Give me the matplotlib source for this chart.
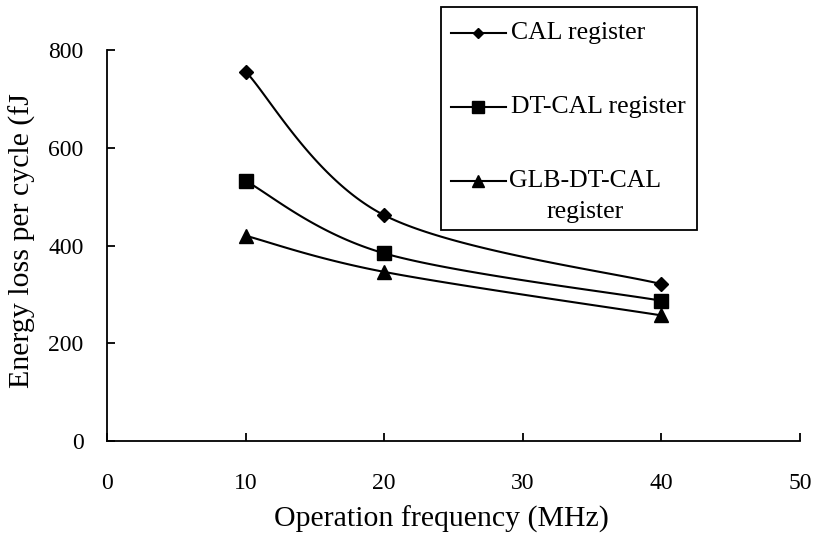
import numpy as np
import matplotlib
matplotlib.use("Agg")
import matplotlib.pyplot as plt
from matplotlib.lines import Line2D
from matplotlib.patches import Rectangle

plt.rcParams['font.family'] = ['Liberation Serif', 'DejaVu Serif']

freq = [10, 20, 40]
cal = [756, 462, 321]
dt_cal = [532, 384, 287]
glb_dt_cal = [420, 346, 257]
series_labels = ["CAL register", "DT-CAL register", "GLB-DT-CAL\nregister"]
markers = ["D", "s", "^"]
msizes = [7, 10, 10]
xticks = [0, 10, 20, 30, 40, 50]
yticks = [0, 200, 400, 600, 800]

W, H = 817, 535
fig = plt.figure(figsize=(W / 100, H / 100), dpi=100)
ax = fig.add_axes([107 / W, 1 - 441 / H, (800 - 107) / W, (441 - 50) / H])


def smooth(xs, ys, n=60):
    pts = np.column_stack([xs, ys]).astype(float)
    out = [pts[0]]
    m = len(pts)
    for i in range(m - 1):
        p0 = pts[i - 1] if i > 0 else pts[i]
        p1 = pts[i]
        p2 = pts[i + 1]
        p3 = pts[i + 2] if i + 2 < m else pts[i + 1]
        c1 = p1 + (p2 - p0) / 6.0
        c2 = p2 - (p3 - p1) / 6.0
        t = np.linspace(0, 1, n)[1:, None]
        seg = ((1 - t) ** 3) * p1 + 3 * ((1 - t) ** 2) * t * c1 + 3 * (1 - t) * t ** 2 * c2 + t ** 3 * p2
        out.extend(seg)
    out = np.array(out)
    return out[:, 0], out[:, 1]


for ys, mk, ms in zip([cal, dt_cal, glb_dt_cal], markers, msizes):
    sx, sy = smooth(freq, ys)
    ax.plot(sx, sy, color='black', lw=1.5, zorder=2, clip_on=False)
    ax.plot(freq, ys, linestyle='none', marker=mk, ms=ms, color='black', zorder=3, clip_on=False)

ax.set_xlim(0, 50)
ax.set_ylim(0, 800)
ax.set_xticks(xticks)
ax.set_yticks(yticks)
ax.spines['top'].set_visible(False)
ax.spines['right'].set_visible(False)
for s in ['left', 'bottom']:
    ax.spines[s].set_linewidth(1.3)
ax.tick_params(direction='in', length=6, width=1.3, labelsize=17)
ax.tick_params(axis='x', pad=23)
ax.tick_params(axis='y', pad=17)


def fx(px):
    return px / W


def fy(py):
    return 1 - py / H


fig.text(fx(441), fy(527), "Operation frequency (MHz)", ha='center', va='baseline', fontsize=21.5)
fig.text(fx(22), fy(241), "Energy loss per cycle (fJ", ha='center', va='center',
         rotation=90, fontsize=21.5)

# Legend box (manual, matching the reference layout)
fig.add_artist(Rectangle((fx(441), fy(230)), (697 - 441) / W, (230 - 7) / H,
                         transform=fig.transFigure, fill=False, edgecolor='black', lw=1.3))
rows = [33, 107, 181]
for lab, mk, ms, ry in zip(series_labels, markers, msizes, rows):
    fig.add_artist(Line2D([fx(451), fx(506)], [fy(ry), fy(ry)], transform=fig.transFigure,
                          color='black', lw=1.5))
    fig.add_artist(Line2D([fx(478)], [fy(ry)], transform=fig.transFigure, linestyle='none',
                          marker=mk, ms=ms * 0.8, color='black'))
    if "\n" in lab:
        first, second = lab.split("\n")
        fig.text(fx(585), fy(ry), first, ha='center', va='center', fontsize=18.5)
        fig.text(fx(585), fy(ry + 31), second, ha='center', va='center', fontsize=18.5)
    else:
        fig.text(fx(511), fy(ry), lab, ha='left', va='center', fontsize=18.5)

fig.savefig("out.png", dpi=100)
